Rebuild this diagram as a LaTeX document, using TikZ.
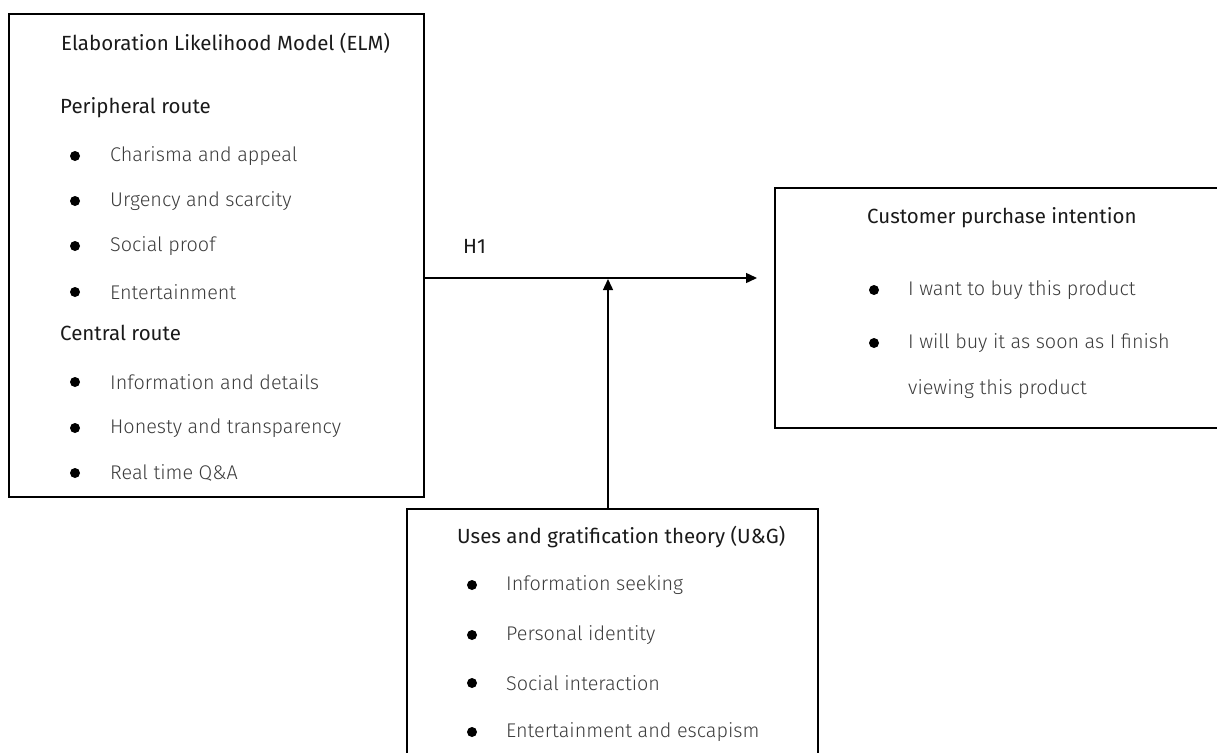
\documentclass[tikz,border=0pt]{standalone}
\usepackage{fontspec}
\setmainfont{Fira Sans}
\newfontfamily\lightfont{Fira Sans Light}
\usetikzlibrary{arrows.meta}
\definecolor{headgray}{HTML}{1A1A1A}
\definecolor{itemgray}{HTML}{3C3C3C}
\tikzset{
  heading/.style={anchor=west, inner sep=0pt, text=headgray, font=\fontsize{20.5}{24}\selectfont},
  item/.style={anchor=west, inner sep=0pt, text=itemgray, font=\lightfont\fontsize{19.8}{24}\selectfont},
  dot/.style={circle, fill=black, inner sep=0pt, minimum size=10pt},
}
\begin{document}
\begin{tikzpicture}[x=1pt, y=-1pt]
        \useasboundingbox (0, 0) rectangle (1217, 752);
	% boxes
	\draw[line width=1.8pt] (9, 14) rectangle (424, 497);
	\draw[line width=1.8pt] (775, 188) rectangle (1230, 428);
	\draw[line width=1.8pt] (407, 509) rectangle (818, 770);
	\coordinate (elmR) at (424, 278);
	\coordinate (cpiL) at (757, 278);
	\coordinate (ugT) at (608, 509);
	\coordinate (meet) at (608, 279);
	% left box
	\node[heading] (elm) at (61, 43) {Elaboration Likelihood Model (ELM)};
	\node[heading] (peri) at (60, 108) {Peripheral route};
	\node[dot] (d1) at (75, 156) {};
	\node[item] (p1) at (110, 156) {Charisma and appeal};
	\node[dot] (d2) at (75, 201) {};
	\node[item] (p2) at (110, 201) {Urgency and scarcity};
	\node[dot] (d3) at (75, 246) {};
	\node[item] (p3) at (110, 246) {Social proof};
	\node[dot] (d4) at (75, 292) {};
	\node[item] (p4) at (110, 292) {Entertainment};
	\node[heading] (cent) at (60, 333) {Central route};
	\node[dot] (d5) at (75, 382) {};
	\node[item] (c1) at (110, 382) {Information and details};
	\node[dot] (d6) at (75, 428) {};
	\node[item] (c2) at (110, 428) {Honesty and transparency};
	\node[dot] (d7) at (75, 473) {};
	\node[item] (c3) at (110, 473) {Real time Q\&A};
	% right box
	\node[heading] (cpi) at (867, 218) {Customer purchase intention};
	\node[dot] (d8) at (874, 290) {};
	\node[item] (i1) at (908, 290) {I want to buy this product};
	\node[dot] (d9) at (874, 343) {};
	\node[item] (i2) at (908, 343) {I will buy it as soon as I finish};
	\node[item] (i3) at (908, 389) {viewing this product};
	% bottom box
	\node[heading] (ug) at (457, 537) {Uses and gratification theory (U\&G)};
	\node[dot] (d10) at (472, 585) {};
	\node[item] (u1) at (506, 585) {Information seeking};
	\node[dot] (d11) at (472, 635) {};
	\node[item] (u2) at (506, 635) {Personal identity};
	\node[dot] (d12) at (472, 683) {};
	\node[item] (u3) at (506, 683) {Social interaction};
	\node[dot] (d13) at (472, 732) {};
	\node[item] (u4) at (506, 732) {Entertainment and escapism};
	% arrows
	\node[heading] (h1) at (463, 246) {H1};
	\draw[line width=1.4pt, -{Triangle[length=11pt, width=10pt]}] (elmR) -- (cpiL);
	\draw[line width=1.4pt, -{Triangle[length=11pt, width=10pt]}] (ugT) -- (meet);
    \end{tikzpicture}
\end{document}
